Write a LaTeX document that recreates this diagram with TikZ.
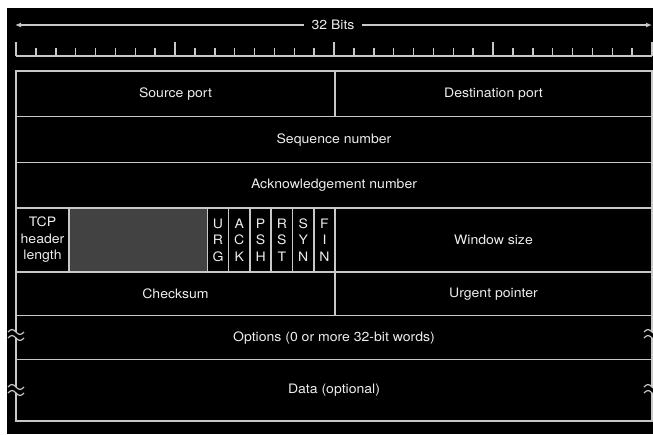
\documentclass[tikz,border=0pt]{standalone}
\usepackage{fontspec}
\setmainfont{TeX Gyre Heros}[FakeStretch=1.08]
\usetikzlibrary{arrows.meta}
\definecolor{rule}{HTML}{C8C8C8}
\definecolor{ink}{HTML}{EEEEEE}
\definecolor{pad}{HTML}{424242}
\begin{document}
\begin{tikzpicture}[x=1pt,y=-1pt,
  grid/.style={draw=rule, line width=1.5pt},
  lbl/.style={text=ink, font=\fontsize{13}{16.5}\selectfont, inner sep=0pt, align=center},
  wave/.style={draw=rule, line width=1.2pt}]
% page and black panel
\fill[white] (0,0) rectangle (653,434);
\fill[black] (7,8) rectangle (653,434);
\useasboundingbox (0,0) rectangle (653,434);

% width arrow
\node[lbl, inner xsep=7pt] (bits) at (333,25) {32 Bits};
\coordinate (bl) at (15,25);
\coordinate (br) at (652,25);
\draw[draw=rule, line width=1.2pt, -{Latex[length=6pt,width=5pt]}] (bits.west) -- (bl);
\draw[draw=rule, line width=1.2pt, -{Latex[length=6pt,width=5pt]}] (bits.east) -- (br);

% bit ruler
\draw[grid] (16,56) -- (652,56);
\foreach \k in {0,...,32}{
  \pgfmathsetmacro{\xx}{16+\k*19.875}
  \pgfmathtruncatemacro{\big}{mod(\k,8)==0}
  \ifnum\big=1
    \draw[grid] (\xx,42) -- (\xx,56);
  \else
    \draw[grid] (\xx,48) -- (\xx,56);
  \fi
}

% reserved field
\fill[pad] (69,208) rectangle (207.3,272);

% row separators
\foreach \yy in {71,116.5,162.5,208,272,315.5,359.5,421}
  \draw[grid] (15.25,\yy) -- (652.75,\yy);

% outer borders
\draw[grid] (16,71) -- (16,421);
\draw[grid] (652,71) -- (652,421);

% column separators
\draw[grid] (335,71) -- (335,116.5);
\draw[grid] (335,208) -- (335,315.5);
\foreach \xx in {69,207.3,228.6,249.9,271.2,292.5,313.8}
  \draw[grid] (\xx,208) -- (\xx,272);

% break marks on the variable-length rows
\foreach \yy in {335,390}{
  \fill[black] (10,\yy-3) rectangle (22,\yy+3);
  \fill[black] (646,\yy-3) rectangle (653,\yy+3);
  \draw[wave] (8,\yy-3) sin (12,\yy-5.5) cos (16,\yy-3) sin (20,\yy-0.5) cos (24,\yy-3);
  \draw[wave] (8,\yy+3) sin (12,\yy+0.5) cos (16,\yy+3) sin (20,\yy+5.5) cos (24,\yy+3);
  \draw[wave] (644,\yy-3) sin (648,\yy-5.5) cos (652,\yy-3) sin (656,\yy-0.5);
  \draw[wave] (644,\yy+3) sin (648,\yy+0.5) cos (652,\yy+3) sin (656,\yy+5.5);
}

% field labels
\node[lbl] (src) at (175.5,94) {Source port};
\node[lbl] (dst) at (493.5,94) {Destination port};
\node[lbl] (seq) at (334,140) {Sequence number};
\node[lbl] (ack) at (334,185.5) {Acknowledgement number};
\node[lbl] (hlen) at (42.5,240) {TCP\\header\\length};
\node[lbl] (urg) at (218,240) {U\\R\\G};
\node[lbl] (ackf) at (239.3,240) {A\\C\\K};
\node[lbl] (psh) at (260.6,240) {P\\S\\H};
\node[lbl] (rst) at (281.9,240) {R\\S\\T};
\node[lbl] (syn) at (303.2,240) {S\\Y\\N};
\node[lbl] (fin) at (324.5,240) {F\\I\\N};
\node[lbl] (win) at (493.5,240) {Window size};
\node[lbl] (chk) at (175.5,294) {Checksum};
\node[lbl] (urgp) at (493.5,294) {Urgent pointer};
\node[lbl] (opt) at (334,338) {Options (0 or more 32-bit words)};
\node[lbl] (data) at (334,390) {Data (optional)};
\end{tikzpicture}
\end{document}
